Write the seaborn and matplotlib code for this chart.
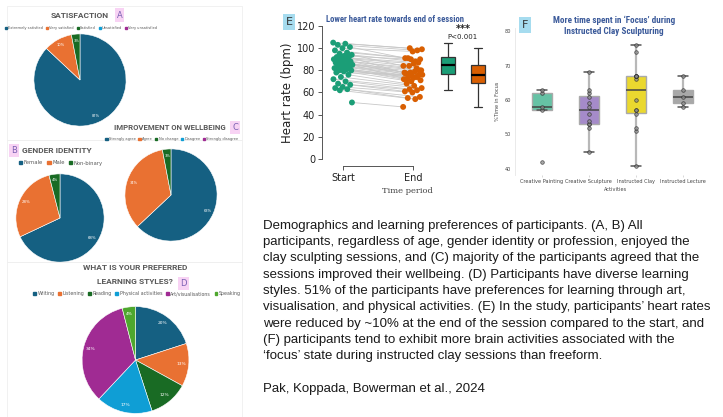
import matplotlib
matplotlib.use("Agg")
import matplotlib.pyplot as plt
from matplotlib import font_manager
from matplotlib.patches import Patch, Rectangle
import numpy as np
import pandas as pd
import seaborn as sns

sns.set_theme(style="white")
plt.rcParams["font.family"] = ["DejaVu Sans"]

W, H = 723, 417

# --- pie data (A-D) ---
office = ["#156082", "#E97132", "#196B24", "#0F9ED5", "#A02B93", "#4EA72E"]

sat_labels = ["Extremely satisfied", "Very satisfied", "Satisfied", "Unsatisfied", "Very unsatisfied"]
sat_values = [87, 10, 3, 0, 0]

gender_labels = ["Female", "Male", "Non-binary"]
gender_values = [68, 28, 4]

wellbeing_labels = ["Strongly agree", "Agree", "No change", "Disagree", "Strongly disagree"]
wellbeing_values = [63, 34, 3, 0, 0]

style_labels = ["Writing", "Listening", "Reading", "Physical activities", "Art/visualisations", "Speaking"]
style_values = [20, 13, 12, 17, 34, 4]

# --- heart rate (E), paired start/end per participant ---
hr_start = [105, 104, 103, 101, 100, 98, 96, 95, 94, 93, 92, 92, 91, 90, 90, 89, 88, 88, 87, 86, 86,
            85, 84, 84, 83, 82, 82, 81, 80, 80, 79, 78, 76, 74, 72, 70, 68, 67, 65, 64, 63, 62, 51]
hr_end = [99, 100, 98, 91, 97, 90, 91, 88, 84, 90, 87, 77, 86, 80, 84, 82, 78, 75, 80, 72, 79,
          76, 78, 74, 77, 73, 71, 75, 74, 72, 70, 76, 68, 66, 64, 63, 62, 61, 60, 56, 55, 54, 47]
periods = ["Start", "End"]

# --- focus time (F) ---
activities = ["Creative Painting", "Creative Sculpture", "Instructed Clay", "Instructed Lecture"]
focus_painting = [42, 57, 58, 62, 63]
focus_sculpture = [45, 52, 53, 53, 54, 56, 58, 59, 61, 62, 63, 68]
focus_clay = [41, 51, 52, 56, 57, 57, 60, 66, 67, 67, 67, 67, 74, 76]
focus_lecture = [58, 59, 61, 63, 67]

caption_lines = [
    "Demographics and learning preferences of participants. (A, B) All",
    "participants, regardless of age, gender identity or profession, enjoyed the",
    "clay sculpting sessions, and (C) majority of the participants agreed that the",
    "sessions improved their wellbeing. (D) Participants have diverse learning",
    "styles. 51% of the participants have preferences for learning through art,",
    "visualisation, and physical activities. (E) In the study, participants\u2019 heart rates",
    "were reduced by ~10% at the end of the session compared to the start, and",
    "(F) participants tend to exhibit more brain activities associated with the",
    "\u2018focus\u2019 state during instructed clay sessions than freeform.",
]
credit = "Pak, Koppada, Bowerman et al., 2024"

installed = {f.name for f in font_manager.fontManager.ttflist}
narrow = next((f for f in ["Liberation Sans Narrow", "Roboto Condensed", "Open Sans Condensed"]
               if f in installed), "Liberation Sans")
title_font = ["Roboto", "DejaVu Sans"]


def fx(x):
    return x / W


def fy(y):
    return 1 - y / H


def px_axes(x0, y0, x1, y1, **kw):
    return fig.add_axes([x0 / W, 1 - y1 / H, (x1 - x0) / W, (y1 - y0) / H], **kw)


fig = plt.figure(figsize=(W / 100, H / 100), dpi=100)
fig.patch.set_facecolor("white")

# faint panel frames on the left
for (x0, y0, x1, y1) in [(7, 6, 242, 140), (7, 140, 242, 262), (7, 262, 242, 417)]:
    fig.add_artist(Rectangle((fx(x0), fy(y1)), (x1 - x0) / W, (y1 - y0) / H,
                             transform=fig.transFigure, fill=False, ec="#efefef", lw=0.6))


def draw_pie(cx, cy, r, values, labels, colors, fs):
    ax = px_axes(cx - r, cy - r, cx + r, cy + r)
    vals = [v for v in values if v > 0]
    cols = [c for v, c in zip(values, colors) if v > 0]
    ax.pie(vals, colors=cols, startangle=90, counterclock=False,
           autopct="%1.0f%%", pctdistance=0.86,
           wedgeprops=dict(edgecolor="white", linewidth=0.4),
           textprops=dict(color="white", fontsize=fs))
    ax.set_xlim(-1.02, 1.02)
    ax.set_ylim(-1.02, 1.02)
    ax.set_aspect("equal")
    ax.axis("off")
    return ax


def pie_legend(cx, cy, labels, colors, fs):
    handles = [Patch(color=c, label=l) for l, c in zip(labels, colors)]
    fig.legend(handles=handles, loc="center", bbox_to_anchor=(fx(cx), fy(cy)),
               ncol=len(labels), frameon=False, fontsize=fs, handlelength=0.6,
               handleheight=0.6, handletextpad=0.3, columnspacing=0.8,
               labelcolor="#595959", borderpad=0)


def tag(x, y, letter, fc, color, fs):
    fig.text(fx(x), fy(y), letter, ha="center", va="center", fontsize=fs, color=color,
             bbox=dict(boxstyle="square,pad=0.25", fc=fc, ec="none"))


def pie_title(x, y, text, fs=6.0, ha="center"):
    fig.text(fx(x), fy(y), text, ha=ha, va="center", fontsize=fs,
             fontweight="bold", color="#595959", family=title_font)


# A
pie_title(80, 15, "SATISFACTION")
tag(119.5, 15, "A", "#f8d3f4", "#7b61b3", 6)
pie_legend(81, 28, sat_labels, office[:5], 2.6)
draw_pie(80, 80, 47, sat_values, sat_labels, office, 2.6)

# C
pie_title(170, 128, "IMPROVEMENT ON WELLBEING", fs=5.6)
tag(235, 127.5, "C", "#f8d3f4", "#7b61b3", 6)
pie_legend(172, 139, wellbeing_labels, office[:5], 2.6)
draw_pie(171, 195, 47, wellbeing_values, wellbeing_labels, office, 2.6)

# B
tag(14, 150.5, "B", "#f8d3f4", "#7b61b3", 6)
pie_title(22, 150.5, "GENDER IDENTITY", ha="left")
pie_legend(61, 163, gender_labels, office[:3], 3.8)
draw_pie(60, 218, 45, gender_values, gender_labels, office, 2.8)

# D
pie_title(135, 268, "WHAT IS YOUR PREFERRED")
pie_title(135, 281, "LEARNING STYLES?")
tag(183.5, 283.5, "D", "#f8d3f4", "#7b61b3", 6)
pie_legend(137, 294, style_labels, office, 3.4)
draw_pie(135.5, 360, 54.5, style_values, style_labels, office, 3.2)

# --- E: paired heart rate ---
n = len(hr_start)
offs = np.array([((i * 0.618034) % 1.0) - 0.5 for i in range(n)]) * 0.28
hr = pd.DataFrame({
    "id": list(range(n)) * 2,
    "period": ["Start"] * n + ["End"] * n,
    "hr": hr_start + hr_end,
    "xpos": list(0 + offs) + list(1 + offs[::-1]),
})
pal_e = {"Start": "#1b9e77", "End": "#d95f02"}

axE = px_axes(322, 20, 492, 166)
sns.lineplot(data=hr, x="xpos", y="hr", units="id", estimator=None, color="#c8c8c8",
             lw=0.6, ax=axE, zorder=1)
sns.scatterplot(data=hr, x="xpos", y="hr", hue="period", palette=pal_e, s=18,
                edgecolor="none", legend=False, ax=axE, zorder=2)
axE.set_xlim(-0.3, 2.13)
axE.set_ylim(-6.32, 125.41)
axE.set_xticks([0, 1], periods)
axE.set_yticks(range(0, 121, 20))
axE.spines["top"].set_visible(False)
axE.spines["right"].set_visible(False)
axE.spines["left"].set_bounds(0, 120)
axE.spines["bottom"].set_bounds(0, 1)
for s in ["left", "bottom"]:
    axE.spines[s].set_color("#555555")
    axE.spines[s].set_linewidth(0.7)
axE.tick_params(axis="both", length=3, width=0.7, color="#555555", labelsize=7,
                labelcolor="#222222", pad=2, bottom=True, left=True)
axE.set_ylabel("Heart rate (bpm)", fontsize=8.5, color="#222222", labelpad=2)
axE.set_xlabel("Time period", fontsize=6, family="DejaVu Serif", color="#444444", labelpad=3)
axE.set_facecolor("none")

axB = px_axes(433, 20, 493, 166, sharey=axE)
sns.boxplot(data=hr, x="period", y="hr", hue="period", order=periods, palette=pal_e,
            width=0.47, saturation=1, showfliers=False, linecolor="#333333", linewidth=0.9,
            medianprops=dict(color="black", linewidth=1.6), legend=False, ax=axB)
axB.set_xlim(-0.5, 1.5)
axB.axis("off")

fig.text(fx(326), fy(20), "Lower heart rate towards end of session", ha="left", va="center",
         fontsize=6.2, color="#3b5a9a", fontweight="bold", family=narrow)
tag(289, 22, "E", "#a6dcef", "#333333", 8)
fig.text(fx(463), fy(29), "***", ha="center", va="center", fontsize=7, fontweight="bold",
         color="#222222")
fig.text(fx(463), fy(37), "P<0.001", ha="center", va="center", fontsize=5, color="#222222")

# --- F: focus time ---
groups = [focus_painting, focus_sculpture, focus_clay, focus_lecture]
focus = pd.DataFrame({
    "activity": [a for a, g in zip(activities, groups) for _ in g],
    "focus": [v for g in groups for v in g],
})
pal_f = dict(zip(activities, ["#66c2a5", "#a58bc9", "#ead82f", "#a8a8a8"]))

axF = px_axes(515, 28, 716, 175)
sns.boxplot(data=focus, x="activity", y="focus", hue="activity", order=activities,
            palette=pal_f, width=0.42, saturation=1, showfliers=False,
            linecolor="#b8b8b8", linewidth=1.6,
            medianprops=dict(color="#444444", linewidth=1.1),
            capprops=dict(color="#555555", linewidth=1.1),
            boxprops=dict(edgecolor="#aaaaaa", linewidth=1.0),
            legend=False, ax=axF)
sns.stripplot(data=focus, x="activity", y="focus", order=activities, jitter=False,
              color="#8a8a8a", alpha=0.75, size=2.6, linewidth=0.5, edgecolor="#222222",
              ax=axF)
axF.set_xlim(-0.57, 3.7)
axF.set_ylim(38.26, 80.87)
axF.set_yticks([40, 50, 60, 70, 80])
for s in axF.spines.values():
    s.set_visible(False)
axF.spines["left"].set_visible(True)
axF.spines["left"].set_color("#e6e6e6")
axF.spines["left"].set_linewidth(0.6)
axF.tick_params(axis="both", labelsize=3.6, labelcolor="#444444", length=1.5, width=0.4,
                color="#bbbbbb", pad=1.5, bottom=True)
axF.set_xlabel("Activities", fontsize=3.6, color="#444444", labelpad=2)
axF.set_ylabel("%Time in Focus", fontsize=3.6, color="#444444", labelpad=3)
axF.set_facecolor("none")

fig.text(fx(614), fy(20), "More time spent in \u2018Focus\u2019 during", ha="center", va="center",
         fontsize=6.6, color="#3b5a9a", fontweight="bold", family=narrow)
fig.text(fx(614), fy(31.5), "Instructed Clay Sculpturing", ha="center", va="center",
         fontsize=6.6, color="#3b5a9a", fontweight="bold", family=narrow)
tag(525, 25, "F", "#a6dcef", "#333333", 8)

# --- caption ---
for i, line in enumerate(caption_lines):
    fig.text(fx(263), fy(226 + i * 16.25), line, ha="left", va="center", fontsize=9.5,
             color="#1a1a1a", family=["Liberation Sans", "DejaVu Sans"])
fig.text(fx(263), fy(389), credit, ha="left", va="center", fontsize=9.5,
         color="#1a1a1a", family=["Liberation Sans", "DejaVu Sans"])

fig.savefig("out.png", dpi=100, facecolor="white")
